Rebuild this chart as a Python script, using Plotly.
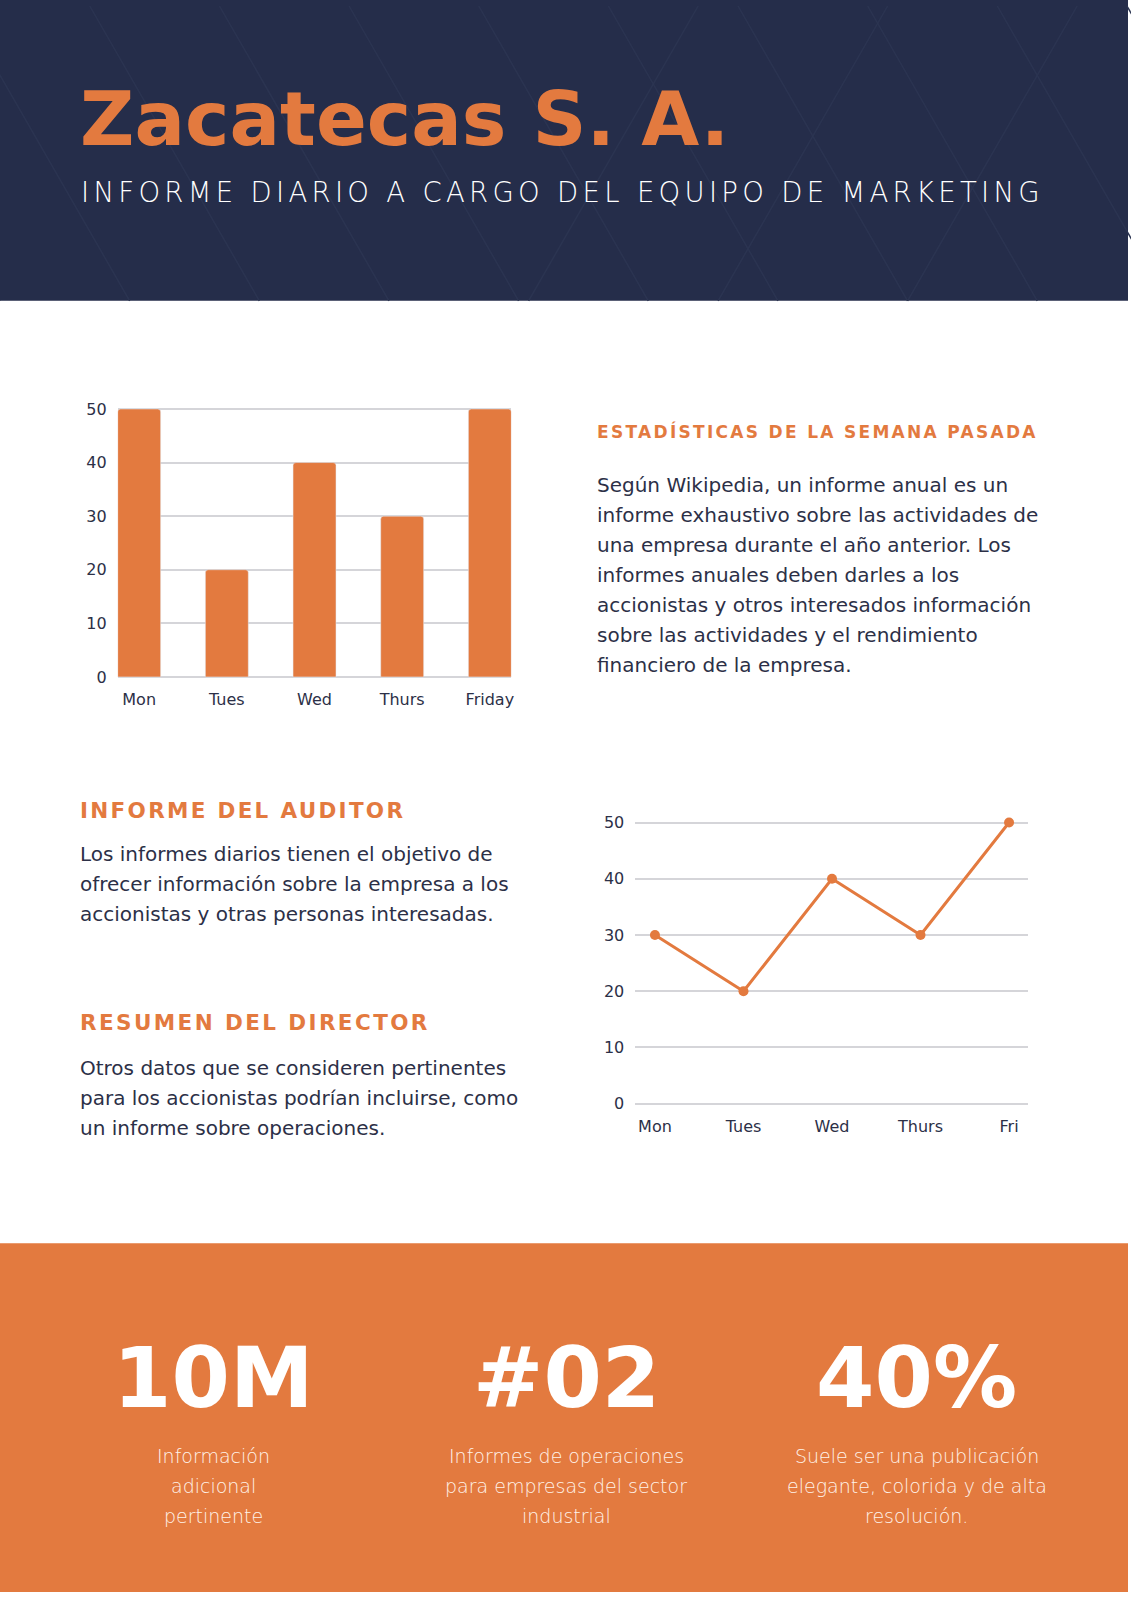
import json
import plotly.graph_objects as go

# Chart data
bar_days = ['Mon', 'Tues', 'Wed', 'Thurs', 'Friday']
bar_values = [50, 20, 40, 30, 50]
line_days = ['Mon', 'Tues', 'Wed', 'Thurs', 'Fri']
line_values = [30, 20, 40, 30, 50]
y_ticks = [0, 10, 20, 30, 40, 50]

# Page texts
title = 'Zacatecas S. A.'
subtitle = 'INFORME DIARIO A CARGO DEL EQUIPO DE MARKETING'
stats_heading = 'ESTADÍSTICAS DE LA SEMANA PASADA'
stats_lines = ['Según Wikipedia, un informe anual es un',
               'informe exhaustivo sobre las actividades de',
               'una empresa durante el año anterior. Los',
               'informes anuales deben darles a los',
               'accionistas y otros interesados información',
               'sobre las actividades y el rendimiento',
               'financiero de la empresa.']
auditor_heading = 'INFORME DEL AUDITOR'
auditor_lines = ['Los informes diarios tienen el objetivo de',
                 'ofrecer información sobre la empresa a los',
                 'accionistas y otras personas interesadas.']
director_heading = 'RESUMEN DEL DIRECTOR'
director_lines = ['Otros datos que se consideren pertinentes',
                  'para los accionistas podrían incluirse, como',
                  'un informe sobre operaciones.']
kpi_values = ['10M', '#02', '40%']
kpi_captions = [['Información', 'adicional', 'pertinente'],
                ['Informes de operaciones', 'para empresas del sector', 'industrial'],
                ['Suele ser una publicación', 'elegante, colorida y de alta', 'resolución.']]

W, H = 1131, 1600
NAVY = '#252d4a'
ORANGE = '#e37a3f'
TEXT = '#2c3047'
GRID = '#d5d5d9'
FONT = 'DejaVu Sans'

# letter spacing (px) for the spaced-out capitals
spacing = {subtitle: 4.3, stats_heading: 2.3, auditor_heading: 2.3, director_heading: 2.4}


def px(x):
    return x / W


def py(y):
    return 1 - y / H


fig = go.Figure()

# bar chart (top left)
fig.add_trace(go.Bar(x=bar_days, y=bar_values, marker=dict(color=ORANGE, cornerradius=3),
                     xaxis='x', yaxis='y', showlegend=False, hoverinfo='x+y'))
# line chart (middle right)
fig.add_trace(go.Scatter(x=line_days, y=line_values, mode='lines+markers',
                         line=dict(color=ORANGE, width=3), marker=dict(color=ORANGE, size=10),
                         xaxis='x2', yaxis='y2', showlegend=False, cliponaxis=False))

axis_font = dict(family=FONT, size=16, color=TEXT)
# range padded a little so the 0 and 50 gridlines are not dropped at the plot edges
yaxis_common = dict(range=[-0.6, 50.6], tickvals=y_ticks, showgrid=True, gridcolor=GRID,
                    gridwidth=1.5, zeroline=False, showline=False, ticks='', tickfont=axis_font,
                    fixedrange=True)
xaxis_common = dict(type='category', showgrid=False, zeroline=False, showline=False, ticks='',
                    tickfont=axis_font, fixedrange=True)

# 0 -> 676px, 50 -> 406px ; 0.6 units of padding in px
bar_pad = 0.6 * 270 / 50
line_pad = 0.6 * (1106 - 822.7) / 50

shapes = []
# header band
shapes.append(dict(type='rect', xref='paper', yref='paper', x0=0, x1=1, y0=py(297), y1=1.01,
                   fillcolor=NAVY, line=dict(width=0), layer='below'))
# faint diagonal pattern on header
for x0 in range(-300, 1300, 130):
    shapes.append(dict(type='line', xref='paper', yref='paper', x0=px(x0), y0=py(0),
                       x1=px(x0 + 170), y1=py(297), line=dict(color='#2b3451', width=1.5),
                       layer='below'))
for x0 in range(700, 1200, 190):
    shapes.append(dict(type='line', xref='paper', yref='paper', x0=px(x0), y0=py(0),
                       x1=px(x0 - 170), y1=py(297), line=dict(color='#2b3451', width=1.5),
                       layer='below'))
# footer band
shapes.append(dict(type='rect', xref='paper', yref='paper', x0=0, x1=1, y0=py(1598), y1=py(1246.5),
                   fillcolor=ORANGE, line=dict(width=0), layer='below'))

annotations = []


def add_text(text, x, y, size, color, weight=400, xanchor='left', family=FONT):
    annotations.append(dict(text=text, x=px(x), y=py(y), xref='paper', yref='paper',
                            xanchor=xanchor, yanchor='middle', align=xanchor,
                            showarrow=False,
                            font=dict(family=family, size=size, color=color, weight=weight)))


add_text(title, 78, 114, 75, ORANGE, weight=700)
add_text(subtitle, 79, 187, 27.5, '#ffffff', weight=200)

add_text(stats_heading, 597, 429, 17, ORANGE, weight=700)
for i, line in enumerate(stats_lines):
    add_text(line, 597, 483 + i * 30.1, 20, TEXT)

add_text(auditor_heading, 78, 811, 21.5, ORANGE, weight=700)
for i, line in enumerate(auditor_lines):
    add_text(line, 78, 854 + i * 30.3, 20, TEXT)

add_text(director_heading, 78, 1024, 21.5, ORANGE, weight=700)
for i, line in enumerate(director_lines):
    add_text(line, 78, 1070 + i * 30.3, 20, TEXT)

kpi_x = [214, 568, 919]
for cx, val, cap in zip(kpi_x, kpi_values, kpi_captions):
    add_text(val, cx, 1382, 84, '#ffffff', weight=700, xanchor='center')
    for j, line in enumerate(cap):
        add_text(line, cx, 1461 + j * 30, 19, '#fff3ea', weight=200, xanchor='center')

layout = go.Layout(
    width=W, height=H, margin=dict(l=0, r=0, t=0, b=0),
    paper_bgcolor='white', plot_bgcolor='rgba(0,0,0,0)',
    bargap=0.51, showlegend=False,
    xaxis=dict(xaxis_common, domain=[px(118), px(512.7)], range=[-0.245, 4.245],
               anchor='y', ticklabelstandoff=8),
    yaxis=dict(yaxis_common, domain=[py(676 + bar_pad), py(406 - bar_pad)], anchor='x',
               ticklabelstandoff=10),
    xaxis2=dict(xaxis_common, domain=[px(637), px(1031)], range=[-0.222, 4.217],
                anchor='y2', ticklabelstandoff=8),
    yaxis2=dict(yaxis_common, domain=[py(1106 + line_pad), py(822.7 - line_pad)], anchor='x2',
                ticklabelstandoff=10),
    shapes=shapes, annotations=annotations,
)
fig.update_layout(layout)

page_js = ("document.documentElement.style.margin='0';document.body.style.margin='0';"
           "var d=document.getElementById('{plot_id}');"
           "d.style.position='absolute';d.style.top='0';d.style.left='0';"
           "var ls=" + json.dumps(spacing) + ";"
           "d.querySelectorAll('.annotation-text').forEach(function(t){"
           "if(ls[t.textContent]!==undefined){t.style.letterSpacing=ls[t.textContent]+'px';}});"
           "window.scrollTo(0,0);")
fig.write_html("out.html", config={'displayModeBar': False}, post_script=page_js)
